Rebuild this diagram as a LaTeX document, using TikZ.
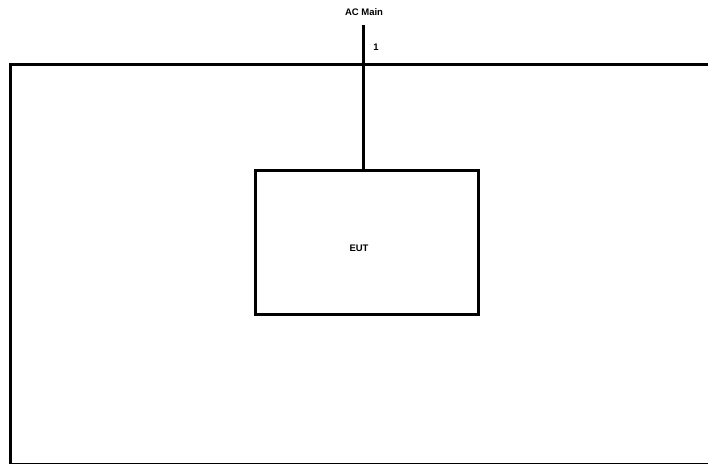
\documentclass[tikz,border=0pt]{standalone}
\usepackage{fontspec}
\setmainfont{Liberation Sans}
\begin{document}
\begin{tikzpicture}[x=1pt,y=-1pt,
  wire/.style={line width=3pt},
  unit/.style={draw,line width=3pt,minimum width=223pt,minimum height=143.5pt,inner sep=0pt,font=\bfseries\fontsize{9.5}{11}\selectfont},
  lbl/.style={font=\bfseries\fontsize{9.5}{11}\selectfont,inner sep=0pt}]
\useasboundingbox (0,0) rectangle (708,463);
\clip (0,0) rectangle (708,463);
% ground plane frame
\draw[wire] (730,64.5) -- (10.5,64.5) -- (10.5,464.5) -- (730,464.5);
% equipment under test
\node[unit] (eut) at (367,242.25) {};
\node[lbl] (eutlbl) at (359,248) {EUT};
% mains feed
\coordinate (feed) at (363.5,25);
\draw[wire] (feed) -- (feed |- eut.north);
\node[lbl] (ac) at (364,12) {AC Main};
\node[lbl] (port) at (376,47) {1};
\end{tikzpicture}
\end{document}
